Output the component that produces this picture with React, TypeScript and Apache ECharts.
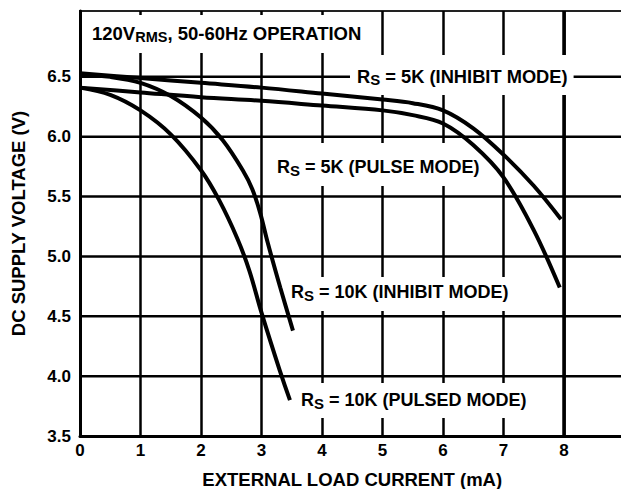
import React, { useEffect, useRef } from 'react';
import * as echarts from 'echarts';

// Axis ranges / ticks
const xMin = 0;
const xMax = 9;
const xInterval = 1;
const yMin = 3.5;
const yMax = 7.05;
const yInterval = 0.5;
const gridVoltages = [4.0, 4.5, 5.0, 5.5, 6.0, 6.5];
const heavyGridX = 8;

// Curves: [load current mA, supply voltage V]
const rs5kInhibit = [
  [0, 6.53], [1, 6.49], [2, 6.45], [3, 6.41], [4, 6.36], [5, 6.31],
  [5.5, 6.28], [6, 6.22], [6.5, 6.07], [7, 5.85], [7.5, 5.59], [7.95, 5.31],
];
const rs5kPulse = [
  [0, 6.41], [1, 6.37], [2, 6.33], [3, 6.3], [4, 6.26], [5, 6.22],
  [5.5, 6.18], [6, 6.11], [6.5, 5.93], [7, 5.66], [7.5, 5.22], [7.93, 4.74],
];
const rs10kInhibit = [
  [0, 6.52], [0.5, 6.5], [1, 6.45], [1.5, 6.34], [2, 6.16], [2.36, 5.97],
  [2.69, 5.72], [2.85, 5.56], [2.98, 5.36], [3.1, 5.12], [3.31, 4.74], [3.52, 4.38],
];
const rs10kPulsed = [
  [0, 6.41], [0.5, 6.35], [1, 6.22], [1.5, 6.02], [2, 5.72], [2.3, 5.47],
  [2.6, 5.15], [2.8, 4.88], [3, 4.53], [3.3, 4.05], [3.47, 3.8],
];

const FONT = '"Liberation Sans", Arial, Helvetica, sans-serif';

export default function App() {
  const ref = useRef<HTMLDivElement>(null);

  useEffect(() => {
    if (!ref.current) return;
    const chart = echarts.init(ref.current, null, { renderer: 'svg' });

    const curveStyle = { color: '#000', width: 4, cap: 'butt' as const };
    const curve = (name: string, data: number[][]) => ({
      name,
      type: 'line',
      data,
      smooth: 0.35,
      symbol: 'none',
      lineStyle: curveStyle,
      z: 5,
      silent: true,
    });

    const gridSeries = gridVoltages.map((v) => ({
      type: 'line',
      data: [[xMin, v], [xMax, v]],
      symbol: 'none',
      lineStyle: { color: '#000', width: 2.5 },
      z: 1,
      silent: true,
    }));

    const subStyle = (size: number) => ({
      fontSize: size,
      fontWeight: 'bold',
      fontFamily: FONT,
      fill: '#000',
      lineHeight: 12,
      verticalAlign: 'bottom',
    });

    const label = (text: string, x: number, y: number, padding: number[], sub = 15, size = 18) => ({
      type: 'text',
      x,
      y,
      z: 3,
      silent: true,
      style: {
        text,
        fill: '#000',
        fontSize: size,
        fontWeight: 'bold',
        fontFamily: FONT,
        lineHeight: 22,
        backgroundColor: '#fff',
        padding,
        align: 'left',
        verticalAlign: 'top',
        textAlign: 'left',
        textVerticalAlign: 'top',
        rich: { sub: subStyle(sub) },
      },
    });

    const option: any = {
      animation: false,
      backgroundColor: '#fff',
      grid: {
        left: 80,
        top: 11,
        width: 544.5,
        height: 425,
        show: true,
        borderColor: '#222',
        borderWidth: 2,
        backgroundColor: 'transparent',
        containLabel: false,
        outerBoundsMode: 'none',
      },
      xAxis: {
        type: 'value',
        min: xMin,
        max: xMax,
        interval: xInterval,
        name: 'EXTERNAL LOAD CURRENT (mA)',
        nameLocation: 'middle',
        nameGap: 34,
        nameTextStyle: { fontSize: 18.5, fontWeight: 'bold', fontFamily: FONT, color: '#000' },
        axisLine: { show: true, lineStyle: { color: '#000', width: 3 } },
        axisTick: { show: false },
        axisLabel: {
          fontSize: 17,
          fontWeight: 'bold',
          fontFamily: FONT,
          color: '#000',
          margin: 6,
          formatter: (v: number) => (v >= xMax ? '' : String(v)),
        },
        splitLine: { show: true, lineStyle: { color: '#000', width: 2.5 } },
      },
      yAxis: {
        type: 'value',
        min: yMin,
        max: yMax,
        interval: yInterval,
        name: 'DC SUPPLY VOLTAGE (V)',
        nameLocation: 'middle',
        nameGap: 52,
        nameRotate: 90,
        nameTextStyle: { fontSize: 18.5, fontWeight: 'bold', fontFamily: FONT, color: '#000' },
        axisLine: { show: true, lineStyle: { color: '#000', width: 3 } },
        axisTick: { show: false },
        axisLabel: {
          fontSize: 17,
          fontWeight: 'bold',
          fontFamily: FONT,
          color: '#000',
          margin: 9,
          formatter: (v: number) => (v > 6.9 ? '' : v.toFixed(1)),
        },
        splitLine: { show: false },
      },
      series: [
        ...gridSeries,
        {
          type: 'line',
          data: [[heavyGridX, yMin], [heavyGridX, yMax]],
          symbol: 'none',
          lineStyle: { color: '#000', width: 3.5 },
          z: 1,
          silent: true,
        },
        curve('RS = 5K (INHIBIT MODE)', rs5kInhibit),
        curve('RS = 5K (PULSE MODE)', rs5kPulse),
        curve('RS = 10K (INHIBIT MODE)', rs10kInhibit),
        curve('RS = 10K (PULSED MODE)', rs10kPulsed),
      ],
      graphic: [
        label('120V{sub|RMS}, 50-60Hz OPERATION', 86, 15, [7, 6, 9, 6], 14.5, 18.5),
        label('R{sub|S} = 5K (INHIBIT MODE)', 350, 55, [10, 6, 8, 7], 15, 18.3),
        label('R{sub|S} = 5K (PULSE MODE)', 270, 143, [13, 5, 8, 7]),
        label('R{sub|S} = 10K (INHIBIT MODE)', 285, 277, [4, 5, 8, 6]),
        label('R{sub|S} = 10K (PULSED MODE)', 295, 383, [6, 5, 7, 6]),
      ],
    };

    chart.setOption(option);
    return () => chart.dispose();
  }, []);

  return (
    <div
      ref={ref}
      style={{ position: 'fixed', left: 0, top: 0, width: 621, height: 489 }}
    />
  );
}
